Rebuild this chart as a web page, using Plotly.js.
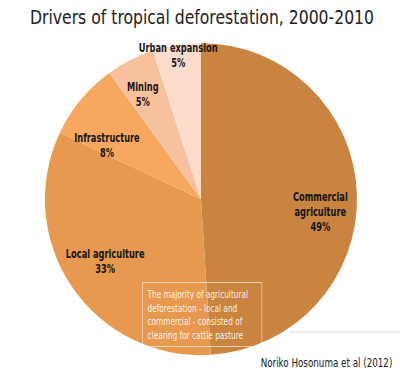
<!DOCTYPE html>
<html><head><meta charset="utf-8">
<script src="https://cdn.plot.ly/plotly-3.0.1.min.js"></script>
<style>html,body{margin:0;padding:0;background:#fff}#chart{width:400px;height:374px}</style>
</head><body><div id="chart"></div>
<script>
const categories = ["Commercial<br>agriculture", "Local agriculture", "Infrastructure", "Mining", "Urban expansion"];
const shares = [49, 33, 8, 5, 5];
const sliceColors = ["#C98440", "#E6994F", "#F6A95E", "#F8C19D", "#FDDCCB"];
const titleText = "Drivers of tropical deforestation, 2000-2010";
const noteText = "The majority of agricultural<br>deforestation - local and<br>commercial - consisted of<br>clearing for cattle pasture";
const sourceText = "Noriko Hosonuma et al (2012)";

const FONT = "DejaVu Sans Condensed, DejaVu Sans, sans-serif";
// label positions (paper coords)
const labelPos = [[0.80, 0.433], [0.2625, 0.30], [0.2675, 0.612], [0.3575, 0.746], [0.445, 0.852]];

const annotations = categories.map((c, i) => ({
  x: labelPos[i][0], y: labelPos[i][1], xref: 'paper', yref: 'paper',
  xanchor: 'center', yanchor: 'middle',
  text: '<b>' + c + '<br>' + shares[i] + '%</b>', showarrow: false,
  font: {family: FONT, size: 11.5, color: '#151515', stretch: 'condensed'}, align: 'center'
}));
annotations.push({
  x: 0.355, y: 0.158, xref: 'paper', yref: 'paper', xanchor: 'left', yanchor: 'middle',
  text: noteText, showarrow: false, align: 'left', width: 142,
  font: {family: FONT, size: 10.5, color: 'rgba(255,255,255,0.9)', stretch: 'condensed'},
  bordercolor: 'rgba(255,255,255,0.6)', borderwidth: 1, borderpad: 5
});
annotations.push({
  x: 0.985, y: 0.03, xref: 'paper', yref: 'paper', xanchor: 'right', yanchor: 'middle',
  text: sourceText, showarrow: false,
  font: {family: FONT, size: 12.5, color: '#222', stretch: 'condensed'}
});
// horizontal squeeze per annotation (and anchor fraction) to mimic the narrow typeface
const squeeze = [[0.8, 0.5], [0.8, 0.5], [0.8, 0.5], [0.8, 0.5], [0.8, 0.5], [0.78, 0], [0.78, 1]];

const data = [{
  type: 'pie', values: shares, labels: categories, sort: false, direction: 'clockwise',
  rotation: 0, marker: {colors: sliceColors, line: {width: 0}}, textinfo: 'none',
  hoverinfo: 'none', showlegend: false,
  domain: {x: [0.1125, 0.8925], y: [0.05, 0.885]}
}];

const layout = {
  width: 400, height: 374, margin: {l: 0, r: 0, t: 0, b: 0},
  paper_bgcolor: '#fff',
  title: {text: titleText, x: 0.505, xanchor: 'center', y: 0.955, yanchor: 'middle',
    font: {family: FONT, size: 20, color: '#222', stretch: 'condensed', weight: 300}},
  annotations: annotations,
  shapes: [{type: 'line', xref: 'paper', yref: 'paper', x0: 0.725, x1: 1, y0: 0.112, y1: 0.112,
    line: {color: '#dcdcdc', width: 1}, layer: 'below'}]
};
Plotly.newPlot('chart', data, layout, {staticPlot: true}).then(gd => {
  const t = gd.querySelector('.gtitle');
  if (t) { t.setAttribute('textLength', '344'); t.setAttribute('lengthAdjust', 'spacingAndGlyphs'); }
  const groups = gd.querySelectorAll('.annotation-text-g');
  groups.forEach((g, i) => {
    const inner = g.firstElementChild;
    if (!inner || !squeeze[i]) return;
    const [s, ax] = squeeze[i];
    const bb = inner.getBBox();
    const m = inner.transform.baseVal.consolidate();
    const e = m ? m.matrix.e : 0, f = m ? m.matrix.f : 0;
    const w = bb.width, x0 = bb.x;
    const px = x0 + w * ax;
    const tx = e + px * (1 - s);
    inner.setAttribute('transform', `translate(${tx},${f}) scale(${s},1)`);
  });
});
</script></body></html>
